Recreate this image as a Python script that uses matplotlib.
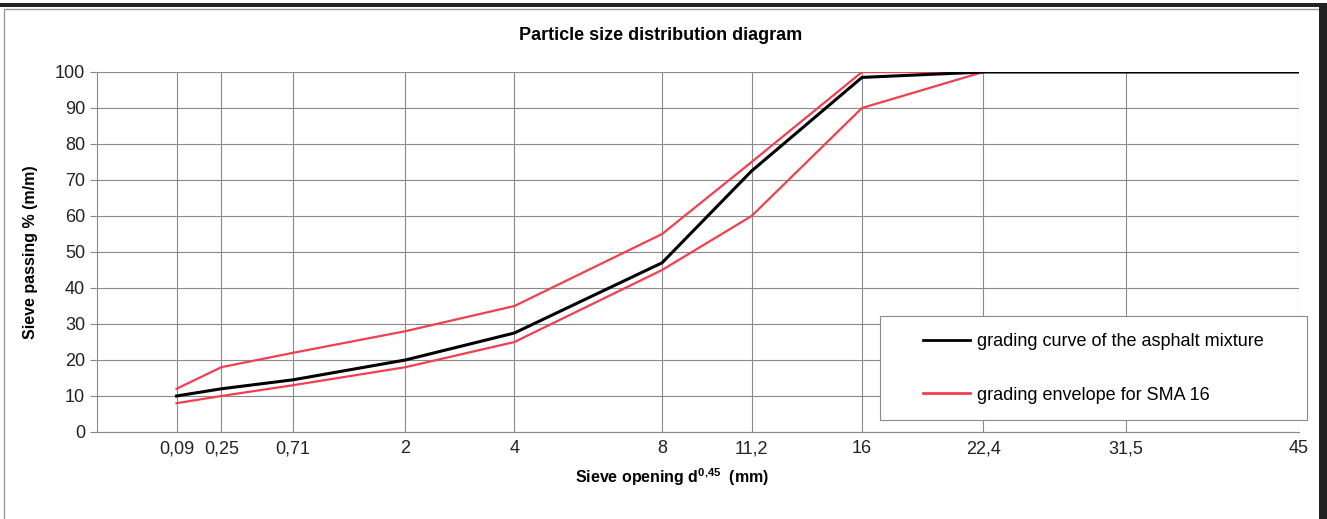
import matplotlib
matplotlib.use("Agg")
import matplotlib.pyplot as plt
from matplotlib.lines import Line2D
from matplotlib.patches import Rectangle

plt.rcParams['font.family'] = ['Liberation Sans', 'DejaVu Sans']
plt.rcParams['mathtext.default'] = 'regular'

# sieve sizes (mm) and passing percentages
sieves = [0.09, 0.25, 0.71, 2, 4, 8, 11.2, 16, 22.4, 31.5, 45]
sieve_labels = ["0,09", "0,25", "0,71", "2", "4", "8", "11,2", "16", "22,4", "31,5", "45"]
mixture = [10, 12, 14.5, 20, 27.5, 47, 72.5, 98.5, 100, 100, 100]
env_sieves = [0.09, 0.25, 0.71, 2, 4, 8, 11.2, 16, 22.4]
env_upper = [12, 18, 22, 28, 35, 55, 75, 100, 100]
env_lower = [8, 10, 13, 18, 25, 45, 60, 90, 100]

red = '#f0404f'
grid_c = '#8a8a8a'
p = 0.437  # power of the scanned sieve axis

fig = plt.figure(figsize=(13.27, 5.19), dpi=100)
ax = fig.add_axes([97/1327, 87/519, 1202/1327, 360/519])

ax.set_xscale('function', functions=(lambda v: v**p, lambda v: v**(1/p)))
ax.plot(env_sieves, env_upper, color=red, lw=1.6, zorder=3)
ax.plot(env_sieves, env_lower, color=red, lw=1.6, zorder=3)
ax.plot(sieves, mixture, color='black', lw=2.2, zorder=4)

ax.set_xlim(0, 45)
ax.set_ylim(0, 100)
ax.set_xticks(sieves)
ax.set_xticklabels(sieve_labels)
ax.set_yticks(range(0, 101, 10))
ax.minorticks_off()
ax.grid(True, color=grid_c, lw=0.8)
ax.tick_params(axis='both', labelsize=13, colors='#222222', length=5, width=0.8)
ax.tick_params(axis='x', length=0, pad=6)
ax.tick_params(axis='y', color=grid_c)
for s in ax.spines.values():
    s.set_color(grid_c)
    s.set_linewidth(0.8)
ax.spines['top'].set_visible(False)
ax.spines['right'].set_visible(False)

fig.text(661/1327, 1 - 35/519, "Particle size distribution diagram", fontsize=13, fontweight='bold',
         ha='center', va='center')
ax.set_ylabel("Sieve passing % (m/m)", fontsize=11.5, fontweight='bold', labelpad=12)
fig.text(672/1327, 1 - 477/519, r"Sieve opening d$^{0{,}45}$  (mm)", fontsize=11.5, fontweight='bold',
         ha='center', va='center')

# legend box
fig.patches.append(Rectangle((880/1327, 1 - 420/519), 427/1327, 104/519, transform=fig.transFigure,
                             facecolor='white', edgecolor=grid_c, lw=0.8, zorder=5))
handles = [Line2D([], [], color='black', lw=2.0), Line2D([], [], color=red, lw=2.0)]
leg = fig.legend(handles, ["grading curve of the asphalt mixture", "grading envelope for SMA 16"],
                 loc='center left', bbox_to_anchor=(923/1327, 1 - 368.5/519),
                 fontsize=13, frameon=False, borderpad=0, borderaxespad=0,
                 labelspacing=2.0, handlelength=2.6, handletextpad=0.4)
leg.set_zorder(6)

# page frame from the scanned report
fig.patches.append(Rectangle((4/1327, -0.05), 1316/1327, 1.05 - 9/519, transform=fig.transFigure,
                             fill=False, edgecolor='#999999', lw=1.0))
fig.patches.append(Rectangle((0, 1 - 7/519), 1, 4/519, transform=fig.transFigure,
                             color='#222222', lw=0))
fig.patches.append(Rectangle((1319/1327, 0), 8/1327, 1 - 3/519, transform=fig.transFigure,
                             color='#222222', lw=0))

fig.savefig("out.png", dpi=100)
